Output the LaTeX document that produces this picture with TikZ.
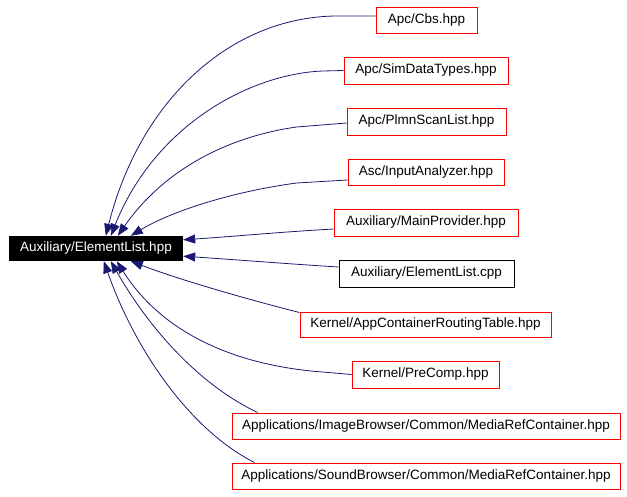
\documentclass[tikz,border=0pt]{standalone}
\usepackage{fontspec}
\setmainfont{Liberation Sans}
\usetikzlibrary{arrows.meta}
\definecolor{edgeblue}{HTML}{191970}
\tikzset{
  filebox/.style={draw=red, line width=1pt, inner sep=0pt, minimum height=26pt, font=\fontsize{13.5}{15}\selectfont},
  plainbox/.style={draw=black, line width=1pt, inner sep=0pt, minimum height=26pt, font=\fontsize{13.5}{15}\selectfont},
  mainbox/.style={fill=black, text=white, inner sep=0pt, minimum height=25pt, font=\fontsize{13.5}{15}\selectfont},
  edge/.style={draw=edgeblue, line width=0.8pt, -{Triangle[length=12pt,width=9pt]}}
}
\begin{document}
\begin{tikzpicture}[x=1pt,y=-1pt]
\useasboundingbox (0,0) rectangle (627,496);
\node[mainbox, minimum width=174pt] (main) at (96,248.5) {Auxiliary/ElementList.hpp};
\node[filebox, minimum width=101pt] (cbs) at (426.5,20) {Apc/Cbs.hpp};
\node[filebox, minimum width=164pt, minimum height=27pt] (sim) at (426,70.5) {Apc/SimDataTypes.hpp};
\node[filebox, minimum width=159pt, minimum height=27pt] (plmn) at (426.5,121.5) {Apc/PlmnScanList.hpp};
\node[filebox, minimum width=156pt] (input) at (426,172) {Asc/InputAnalyzer.hpp};
\node[filebox, minimum width=184pt, minimum height=27pt] (mprov) at (426,222.5) {Auxiliary/MainProvider.hpp};
\node[plainbox, minimum width=175pt, minimum height=27pt] (cpp) at (426.5,273.5) {Auxiliary/ElementList.cpp};
\node[filebox, minimum width=251pt, minimum height=25pt] (appc) at (425.5,324.5) {Kernel/AppContainerRoutingTable.hpp};
\node[filebox, minimum width=147pt, minimum height=27pt] (precomp) at (425.5,374.5) {Kernel/PreComp.hpp};
\node[filebox, minimum width=388pt] (image) at (426,426) {Applications/ImageBrowser/Common/MediaRefContainer.hpp};
\node[filebox, minimum width=388pt] (sound) at (426,476) {Applications/SoundBrowser/Common/MediaRefContainer.hpp};

\draw[edge] ([yshift=4pt]cbs.west) -- ++(-41,0) .. controls (230,18) and (140,100) .. ([xshift=97pt]main.north west);
\draw[edge] (sim.west) -- ++(-21,0.5) .. controls (250,74) and (155,125) .. ([xshift=102pt]main.north west);
\draw[edge] ([yshift=-1.5pt]plmn.west) -- ++(-50,4) .. controls (220,138) and (160,175) .. ([xshift=109pt]main.north west);
\draw[edge] ([yshift=-8pt]input.west) -- ++(-51,3) .. controls (230,192) and (170,212) .. ([xshift=122pt]main.north west);
\draw[edge] ([yshift=-6.5pt]mprov.west) .. controls (280,232) and (240,236) .. ([yshift=-4pt]main.north east);
\draw[edge] ([yshift=6.5pt]cpp.west) .. controls (290,264) and (240,260) .. ([yshift=5pt]main.south east);
\draw[edge] ([yshift=-1pt]appc.north west) .. controls (250,300) and (180,280) .. ([xshift=122pt]main.south west);
\draw[edge] (precomp.west) -- ++(-29,-2.5) .. controls (230,365) and (160,330) .. ([xshift=108pt]main.south west);
\draw[edge] ([xshift=26pt]image.north west) .. controls (200,385) and (150,330) .. ([xshift=102pt]main.south west);
\draw[edge] ([xshift=23pt]sound.north west) .. controls (190,430) and (135,350) .. ([xshift=95pt]main.south west);
\end{tikzpicture}
\end{document}
